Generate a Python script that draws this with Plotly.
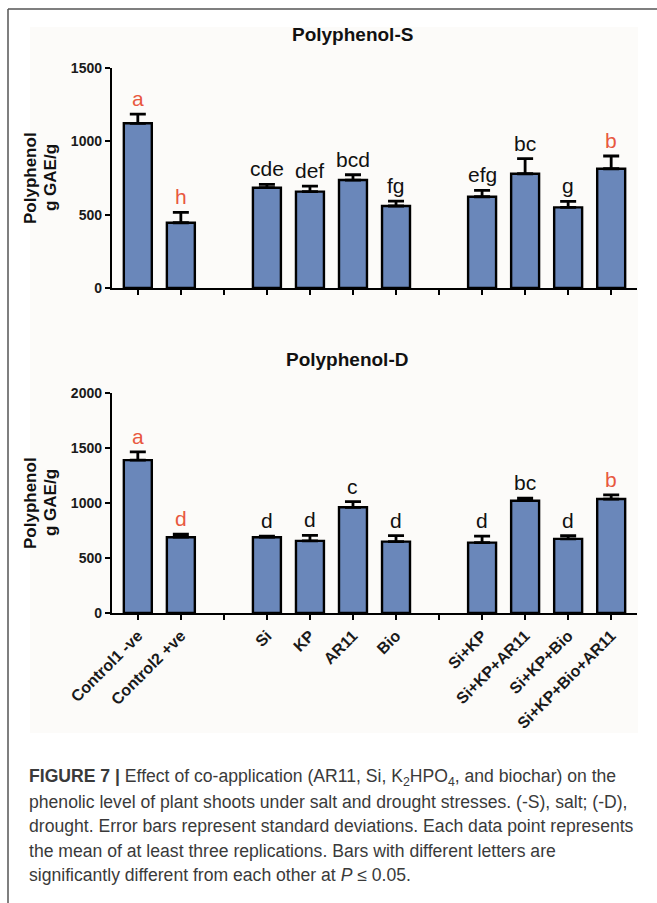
import plotly.graph_objects as go

# ---------------- data ----------------
categories = ["Control1 -ve", "Control2 +ve", "", "Si", "KP", "AR11", "Bio", "",
              "Si+KP", "Si+KP+AR11", "Si+KP+Bio", "Si+KP+Bio+AR11"]
bar_categories = ["Control1 -ve", "Control2 +ve", "Si", "KP", "AR11", "Bio",
                  "Si+KP", "Si+KP+AR11", "Si+KP+Bio", "Si+KP+Bio+AR11"]

salt_mean = [1123, 445, 684, 657, 736, 559, 622, 779, 550, 813]
salt_sd = [63, 71, 23, 38, 36, 34, 44, 103, 41, 87]
salt_letters = ["a", "h", "cde", "def", "bcd", "fg", "efg", "bc", "g", "b"]

drought_mean = [1390, 689, 689, 656, 961, 649, 640, 1021, 674, 1036]
drought_sd = [75, 27, 10, 50, 51, 55, 58, 24, 30, 37]
drought_letters = ["a", "d", "d", "d", "c", "d", "d", "bc", "d", "b"]

highlight = ["Control1 -ve", "Control2 +ve", "Si+KP+Bio+AR11"]

salt_ticks = [0, 500, 1000, 1500]
drought_ticks = [0, 500, 1000, 1500, 2000]

caption_lines = [
    "<b>FIGURE 7 |</b> Effect of co-application (AR11, Si, K<sub>2</sub>HPO<sub>4</sub>, and biochar) on the",
    "phenolic level of plant shoots under salt and drought stresses. (-S), salt; (-D),",
    "drought. Error bars represent standard deviations. Each data point represents",
    "the mean of at least three replications. Bars with different letters are",
    "significantly different from each other at <i>P</i> ≤ 0.05.",
]

# category slots -> positions on a linear axis (gaps keep their own slot)
bar_pos = [categories.index(c) for c in bar_categories]
gap_pos = [i for i, c in enumerate(categories) if c == ""]

# ---------------- layout helpers ----------------
W, H = 657, 903
def px(x):
    return x / W
def py(y):
    return 1 - y / H

BAR_COLOR = "#6a87ba"
RED = "#e8583f"
FONT = "Liberation Sans, Arial, sans-serif"

fig = go.Figure()

for mean, sd, xa, ya in [(salt_mean, salt_sd, "x", "y"), (drought_mean, drought_sd, "x2", "y2")]:
    fig.add_trace(go.Bar(
        x=bar_pos, y=mean, xaxis=xa, yaxis=ya,
        width=0.65,
        marker=dict(color=BAR_COLOR, line=dict(color="black", width=2.4)),
        error_y=dict(type="data", array=sd, arrayminus=[0] * len(sd), symmetric=False,
                     color="black", thickness=2.8, width=8),
        showlegend=False, hoverinfo="skip",
    ))

axis_common = dict(showline=True, linecolor="black", linewidth=2.4, ticks="outside",
                   ticklen=5, tickwidth=2.2, tickcolor="black", showgrid=False, zeroline=False,
                   automargin=False)
minor_gap = dict(tickmode="array", tickvals=gap_pos, ticks="outside", ticklen=5,
                 tickwidth=2.2, tickcolor="black", showgrid=False)

X_DOMAIN = [px(112), px(637)]
X_RANGE = [-0.6, 11.6]

fig.update_layout(
    template="none",
    width=W, height=H,
    margin=dict(l=0, r=0, t=0, b=0, autoexpand=False),
    paper_bgcolor="white", plot_bgcolor="rgba(0,0,0,0)",
    font=dict(family=FONT, color="black"),
    xaxis=dict(domain=X_DOMAIN, anchor="y", type="linear",
               range=X_RANGE, tickmode="array", tickvals=bar_pos,
               showticklabels=False, minor=minor_gap, **axis_common),
    yaxis=dict(domain=[py(288), py(68)], anchor="x", range=[0, 1500], tickmode="array",
               tickvals=salt_ticks,
               tickfont=dict(size=14, weight="bold", color="#1a1a1a"), **axis_common),
    xaxis2=dict(domain=X_DOMAIN, anchor="y2", type="linear",
                range=X_RANGE, tickangle=-45, tickmode="array",
                tickvals=bar_pos, ticktext=bar_categories, minor=minor_gap,
                tickfont=dict(size=16, weight="bold", color="#1a1a1a"), **axis_common),
    yaxis2=dict(domain=[py(613), py(393)], anchor="x2", range=[0, 2000], tickmode="array",
                tickvals=drought_ticks,
                tickfont=dict(size=14, weight="bold", color="#1a1a1a"), **axis_common),
)

# background panel and frame
fig.add_shape(type="rect", xref="paper", yref="paper", x0=px(30), x1=px(638), y0=py(733), y1=py(27),
              fillcolor="#fcfbf9", line=dict(width=0), layer="below")
fig.add_shape(type="line", xref="paper", yref="paper", x0=px(8), x1=1, y0=py(9), y1=py(9),
              line=dict(color="#555555", width=1.5))
fig.add_shape(type="line", xref="paper", yref="paper", x0=px(8), x1=px(8), y0=py(9), y1=0,
              line=dict(color="#555555", width=1.5))

ann = []
def paper_text(text, x, y, size, angle=0, color="#111", xanchor="center"):
    ann.append(dict(text=text, x=px(x), y=py(y), xref="paper", yref="paper",
                    xanchor=xanchor, yanchor="middle", showarrow=False, textangle=angle,
                    font=dict(size=size, color=color)))

# titles
paper_text("<b>Polyphenol-S</b>", 352, 35, 19)
paper_text("<b>Polyphenol-D</b>", 347, 360, 19)
# y-axis titles
for yc in (178, 503):
    paper_text("<b>Polyphenol</b>", 30, yc, 17, angle=-90)
    paper_text("<b>g GAE/g</b>", 50, yc, 17, angle=-90)

# significance letters
for mean, sd, letters, xr, yr in [(salt_mean, salt_sd, salt_letters, "x", "y"),
                                  (drought_mean, drought_sd, drought_letters, "x2", "y2")]:
    for c, p, m, s, l in zip(bar_categories, bar_pos, mean, sd, letters):
        ann.append(dict(text=l, x=p, y=m + s, xref=xr, yref=yr, xanchor="center",
                        yanchor="bottom", showarrow=False, yshift=2,
                        font=dict(size=21, color=RED if c in highlight else "#111")))

# caption
for i, line in enumerate(caption_lines):
    ann.append(dict(text=line, x=px(27), y=py(777 + 24.5 * i), xref="paper", yref="paper",
                    xanchor="left", yanchor="middle", showarrow=False,
                    font=dict(size=17.6, color="#3a3a3a", family=FONT)))

fig.update_layout(annotations=ann)
fig.write_html("out.html")
